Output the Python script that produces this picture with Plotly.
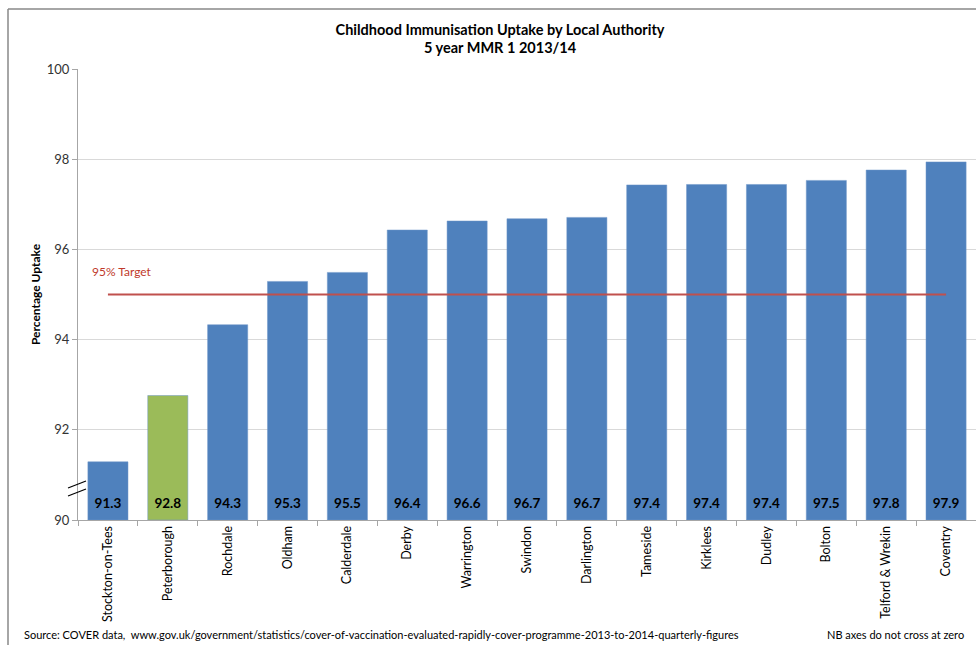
import plotly.graph_objects as go

authorities = ["Stockton-on-Tees", "Peterborough", "Rochdale", "Oldham", "Calderdale",
               "Derby", "Warrington", "Swindon", "Darlington", "Tameside", "Kirklees",
               "Dudley", "Bolton", "Telford & Wrekin", "Coventry"]
uptake = [91.29, 92.76, 94.33, 95.29, 95.49, 96.43, 96.63, 96.68, 96.71, 97.43, 97.44,
          97.44, 97.53, 97.76, 97.94]
highlight = "Peterborough"
target = 95
y_ticks = [90, 92, 94, 96, 98, 100]

BLUE = "#4F81BD"
GREEN = "#9BBB59"
RED = "#C0504D"
FONT = "Lato"

colors = [GREEN if a == highlight else BLUE for a in authorities]

W, H = 976, 645
L, R, T, B = 78, 0, 69, 125
pw = W - L - R
ph = H - T - B


def px(x):
    return (x - L) / pw


def py(y):
    return (H - B - y) / ph


fig = go.Figure()
fig.add_trace(go.Bar(
    x=authorities, y=[v - 90 for v in uptake], base=90,
    marker=dict(color=colors, line=dict(color="#6F97C9", width=0.5)),
    hoverinfo="x+y", showlegend=False,
))
fig.add_trace(go.Scatter(
    x=authorities, y=[90.33] * len(authorities), mode="text",
    text=[f"{v:.1f}" for v in uptake], textposition="middle center",
    textfont=dict(family=FONT, size=13.5, color="black", weight="bold"),
    showlegend=False, hoverinfo="skip",
))
fig.add_trace(go.Scatter(
    x=authorities, y=[target] * len(authorities), mode="lines",
    line=dict(color=RED, width=2), showlegend=False, hoverinfo="skip",
))

fig.update_layout(
    width=W, height=H,
    margin=dict(l=L, r=R, t=T, b=B, autoexpand=False),
    paper_bgcolor="white", plot_bgcolor="white",
    bargap=0.33,
    font=dict(family=FONT, size=12, color="#000000"),
    title=dict(
        text="<b>Childhood Immunisation Uptake by Local Authority</b>",
        x=500 / W, xanchor="center", y=1 - 30 / H, yanchor="middle",
        font=dict(family=FONT, size=14.5, color="black"),
    ),
    xaxis=dict(
        type="category", range=[-0.5, len(authorities) - 0.5], autorange=False,
        tickson="boundaries", ticks="outside", ticklen=5,
        tickcolor="#A6A6A6", tickangle=-90, showline=True, linecolor="#A6A6A6",
        tickfont=dict(family=FONT, size=12.5, color="black"), showgrid=False,
    ),
    yaxis=dict(
        range=[90, 100], tickvals=y_ticks, ticks="outside", ticklen=5,
        tickcolor="#A6A6A6", showline=True, linecolor="#A6A6A6",
        gridcolor="#D9D9D9", gridwidth=1, zeroline=False,
        tickfont=dict(family=FONT, size=13, color="#333333"),
        title=dict(text="<b>Percentage Uptake</b>", font=dict(family=FONT, size=12, color="black"),
                   standoff=3),
    ),
    annotations=[
        dict(text="<b>5 year MMR 1 2013/14</b>", x=px(500), xref="paper", y=py(48), yref="paper",
             xanchor="center", yanchor="middle", showarrow=False,
             font=dict(family=FONT, size=14.5, color="black")),
        dict(text="95% Target", x=px(90), xref="paper", y=95.5, yref="y",
             xanchor="left", yanchor="middle", showarrow=False,
             font=dict(family=FONT, size=12, color="#C0392B")),
        dict(text="Source: COVER data,  www.gov.uk/government/statistics/cover-of-vaccination-evaluated-rapidly-cover-programme-2013-to-2014-quarterly-figures",
             x=px(22), xref="paper", y=py(634), yref="paper", showarrow=False,
             xanchor="left", yanchor="middle", font=dict(family=FONT, size=11, color="black")),
        dict(text="NB axes do not cross at zero", x=px(966), xref="paper", y=py(634), yref="paper",
             showarrow=False, xanchor="right", yanchor="middle",
             font=dict(family=FONT, size=11, color="black")),
    ],
)

# axis break marks and outer frame
shapes = []
for dy in (0, 8):
    shapes.append(dict(type="line", xref="paper", yref="paper",
                       x0=px(68), x1=px(86), y0=py(488 + dy), y1=py(481 + dy),
                       line=dict(color="black", width=1.2)))
shapes.append(dict(type="line", xref="paper", yref="paper",
                   x0=px(8), x1=px(980), y0=py(9), y1=py(9),
                   line=dict(color="#888888", width=1.5)))
shapes.append(dict(type="line", xref="paper", yref="paper",
                   x0=px(8), x1=px(8), y0=py(9), y1=py(650),
                   line=dict(color="#888888", width=1.5)))
fig.update_layout(shapes=shapes)

fig.write_html("out.html", config={"displayModeBar": False},
               post_script="document.body.style.margin='0';document.body.style.overflow='hidden';")
